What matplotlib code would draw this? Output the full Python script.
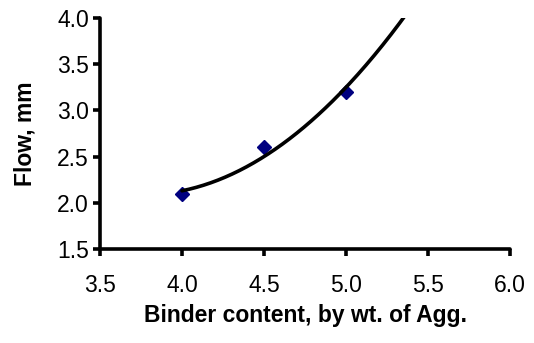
import numpy as np
import matplotlib
matplotlib.use("Agg")
import matplotlib.pyplot as plt

plt.rcParams['font.family'] = ['Liberation Sans', 'DejaVu Sans']

# Measured data points
binder = [4.0, 4.5, 5.0]
flow = [2.1, 2.6, 3.2]

# Points read along the drawn trendline (polynomial, order 2)
trend_x = [4.0, 4.5, 5.0, 5.35]
trend_y = [2.13, 2.50, 3.25, 4.0]

xticks = [3.5, 4.0, 4.5, 5.0, 5.5, 6.0]
yticks = [1.5, 2.0, 2.5, 3.0, 3.5, 4.0]

fig = plt.figure(figsize=(5.34, 3.43), dpi=100)
ax = fig.add_axes([100/534, 1-249/343, 410/534, 231/343])

coef = np.polyfit(trend_x, trend_y, 2)
xs = np.linspace(trend_x[0], 5.45, 200)
ax.plot(xs, np.polyval(coef, xs), color='black', lw=2.6, zorder=3, solid_capstyle='round')
ax.plot(binder, flow, linestyle='none', marker='D', ms=6.8, color='#000080', zorder=2)

ax.set_xlim(3.5, 6.0)
ax.set_ylim(1.5, 4.0)
ax.set_xticks(xticks)
ax.set_yticks(yticks)
ax.set_xticklabels([f"{v:.1f}" for v in xticks])
ax.set_yticklabels([f"{v:.1f}" for v in yticks])

for s in ['top', 'right']:
    ax.spines[s].set_visible(False)
for s in ['left', 'bottom']:
    ax.spines[s].set_linewidth(2.6)
    ax.spines[s].set_capstyle('round')
ax.tick_params(axis='both', length=5, width=2.6, labelsize=16.5)
ax.tick_params(axis='x', pad=13)
ax.tick_params(axis='y', pad=3)

ax.set_xlabel('Binder content, by wt. of Agg.', fontsize=16.5, fontweight='bold', labelpad=5)
ax.set_ylabel('Flow, mm', fontsize=16.5, fontweight='bold', labelpad=15)

fig.savefig('out.png', dpi=100)
